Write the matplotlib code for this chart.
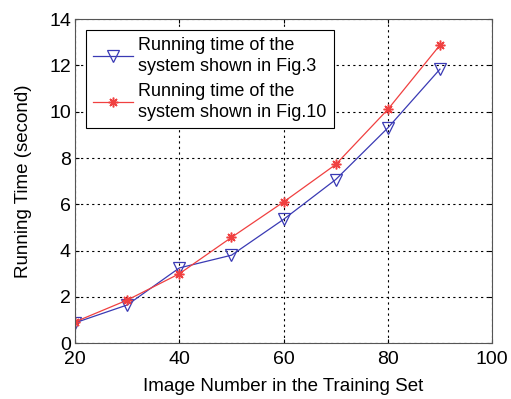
import matplotlib
matplotlib.use('Agg')
import matplotlib.pyplot as plt

# data
image_numbers = [20, 30, 40, 50, 60, 70, 80, 90]
time_fig3 = [0.88, 1.65, 3.25, 3.8, 5.35, 7.07, 9.3, 11.84]
time_fig10 = [0.92, 1.86, 3.0, 4.57, 6.1, 7.72, 10.1, 12.88]

plt.rcParams['font.family'] = ['Liberation Sans', 'DejaVu Sans']

fig = plt.figure(figsize=(5.11, 3.99), dpi=100)
ax = fig.add_axes([0.147, 0.14, 0.816, 0.812])

ax.plot(image_numbers, time_fig3, color='#3a3ab4', linewidth=0.9,
        marker='v', markersize=8, markerfacecolor='none',
        markeredgecolor='#3a3ab4', markeredgewidth=0.9,
        label='Running time of the\nsystem shown in Fig.3')
ax.plot(image_numbers, time_fig10, color='#f04040', linewidth=0.9,
        marker=(8, 2, 0), markersize=7, markerfacecolor='#f04040',
        markeredgecolor='#f04040', markeredgewidth=1.1,
        label='Running time of the\nsystem shown in Fig.10')

ax.set_xlim(20, 100)
ax.set_ylim(0, 14)
ax.set_xticks(range(20, 101, 20))
ax.set_yticks(range(0, 15, 2))
ax.tick_params(labelsize=14, direction='in', length=3, top=True, right=True)
ax.tick_params(axis='x', pad=6)
ax.tick_params(axis='y', pad=3)
ax.grid(True, color='black', linestyle=(0, (2, 3)), linewidth=0.8)
for s in ax.spines.values():
    s.set_color('#555555')

ax.set_xlabel('Image Number in the Training Set', fontsize=13.5, labelpad=7)
ax.set_ylabel('Running Time (second)', fontsize=13.5, labelpad=12)

leg = ax.legend(loc='upper left', fontsize=13, fancybox=False,
                framealpha=1, edgecolor='black', borderaxespad=0.6,
                handlelength=2.2, handletextpad=0.3, labelspacing=0.45,
                borderpad=0.4)
leg.get_frame().set_linewidth(0.8)
for t in leg.get_texts():
    t.set_linespacing(1.3)

fig.savefig('out.png', dpi=100)
